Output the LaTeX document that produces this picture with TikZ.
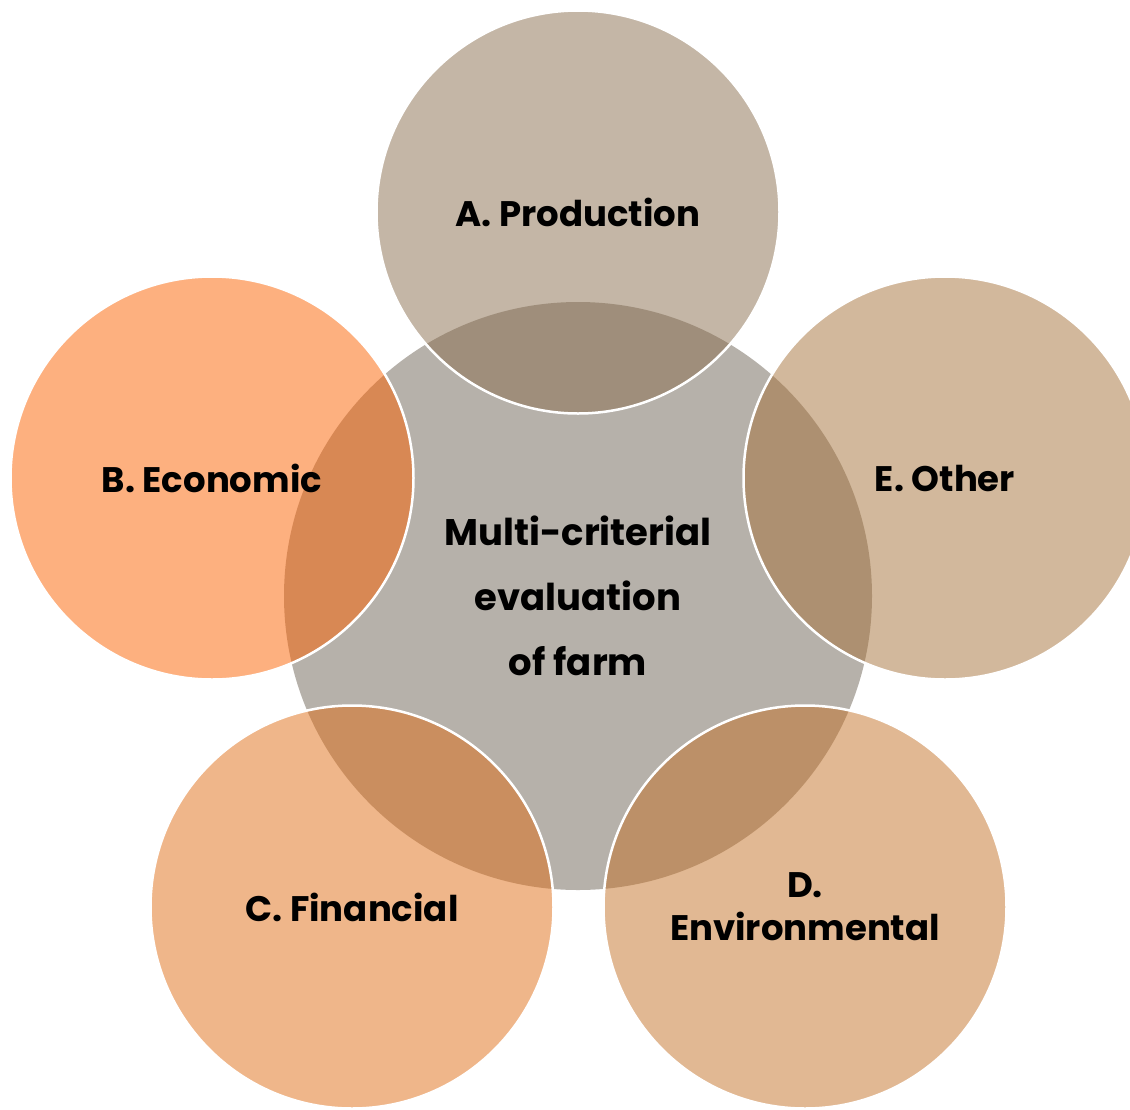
\documentclass[tikz,border=0pt]{standalone}
\usepackage{fontspec}
\setmainfont{Poppins}
\definecolor{colCenter}{RGB}{182,177,170}
\definecolor{colA}{RGB}{137,109,77}
\definecolor{colB}{RGB}{251,97,0}
\definecolor{colC}{RGB}{223,109,21}
\definecolor{colD}{RGB}{195,113,39}
\definecolor{colE}{RGB}{165,113,57}
\tikzset{
  hub/.style={circle, fill=colCenter, draw=none, minimum size=588pt, inner sep=0pt,
    align=center, font=\fontsize{37}{65}\selectfont\bfseries},
  petal/.style={circle, fill=#1, fill opacity=0.5, text opacity=1, draw=white, draw opacity=1,
    line width=2.5pt, minimum size=403pt, inner sep=0pt, align=center,
    font=\fontsize{35.5}{43}\selectfont\bfseries}
}
\begin{document}
\begin{tikzpicture}[x=1pt, y=-1pt]
\useasboundingbox (0,0) rectangle (1130,1109);
\node[hub] (hub) at (578,596) {Multi-criterial\\evaluation\\of farm};
\node[petal=colA] (prod) at (578,212) {A. Production};
\node[petal=colB] (econ) at (212,478) {B. Economic};
\node[petal=colE] (other) at (945,478) {E. Other};
\node[petal=colC] (fin) at (352,907) {C. Financial};
\node[petal=colD] (env) at (805,907) {D.\\Environmental};
\end{tikzpicture}
\end{document}
